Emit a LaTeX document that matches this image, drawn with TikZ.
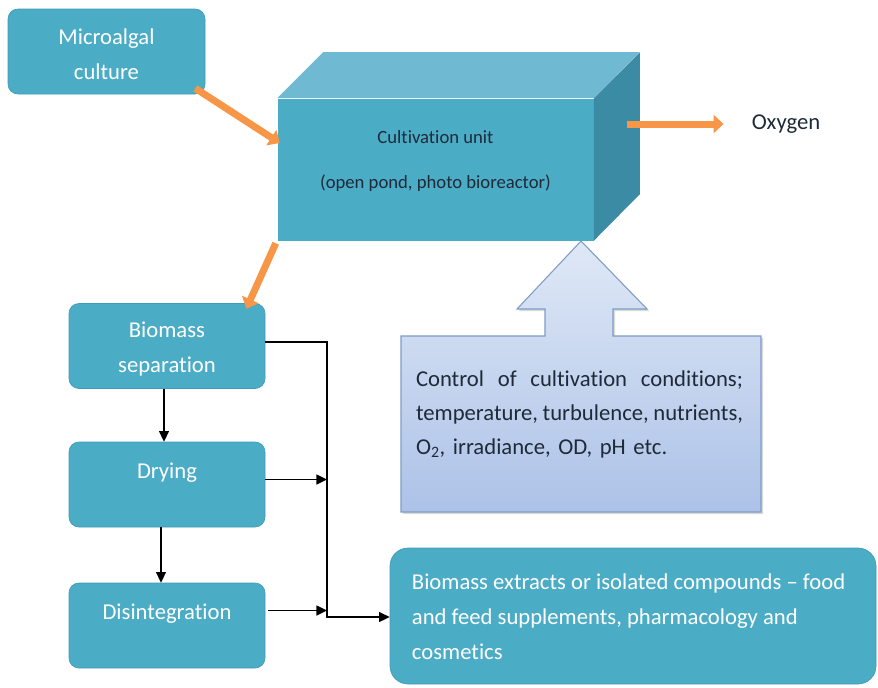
\documentclass[tikz,border=0pt]{standalone}
\usepackage{fontspec}
\setmainfont{Carlito}[Ligatures=NoCommon]
\usetikzlibrary{arrows.meta,shadows}

% one unit of the drawing grid
\newdimen\pxl \pxl=0.75pt
% a line of text spread to the full width of the control box
\newcommand{\fullline}[1]{\leavevmode\hbox to 327\pxl{#1}}

\definecolor{boxfill}{HTML}{4BACC6}
\definecolor{boxline}{HTML}{3F9CB6}
\definecolor{cubetop}{HTML}{6FBAD2}
\definecolor{cubeside}{HTML}{3A8BA3}
\definecolor{flow}{HTML}{F79646}
\definecolor{calltop}{HTML}{DFE8F6}
\definecolor{callbot}{HTML}{ADC2E8}
\definecolor{callline}{HTML}{7F9CC6}
\definecolor{darktxt}{HTML}{1F2A38}

\tikzset{
  stage/.style={rectangle, rounded corners=10\pxl, fill=boxfill, draw=boxline,
    line width=0.5pt, text=white, align=center,
    font=\fontsize{17}{26.25}\selectfont},
  stagetxt/.style={inner sep=0pt, text=white, font=\fontsize{17}{26.25}\selectfont},
  cubefront/.style={rectangle, fill=boxfill, inner sep=0pt},
  cubetxt/.style={inner sep=0pt, text=darktxt, font=\fontsize{14}{17}\selectfont},
  plaintxt/.style={inner sep=0pt, text=darktxt, font=\fontsize{17}{21}\selectfont},
  callout/.style={draw=callline, line width=0.8pt, top color=calltop, bottom color=callbot,
    drop shadow={shadow xshift=1.5pt, shadow yshift=-1.5pt, opacity=0.3}},
  ctrltext/.style={inner sep=0pt, text width=327\pxl, align=left, text=darktxt,
    font=\fontsize{17}{25.5}\selectfont},
  flowarrow/.style={draw=flow, line width=5.25pt,
    -{Triangle[length=7.5pt,width=13.5pt]}},
  flowline/.style={draw=black, line width=1.1pt,
    -{Triangle[length=8pt,width=7.5pt]}}
}

\begin{document}
\begin{tikzpicture}[x=0.75pt,y=-0.75pt]
\useasboundingbox (0,0) rectangle (878,687);

% control conditions callout (up arrow into the cultivation unit)
\path[callout] (401,336) -- (545,336) -- (545,309) -- (517,309) -- (581,241)
  -- (647,309) -- (613,309) -- (613,336) -- (761,336) -- (761,512)
  -- (401,512) -- cycle;
\node[ctrltext] (ctrl) at (579.5,414)
  {\fullline{Control\hfill of\hfill cultivation\hfill conditions;}\\
   \fullline{temperature,\hfill turbulence,\hfill nutrients,}\\
   O\textsubscript{2}, irradiance, OD, pH etc.};

% cultivation unit as a cuboid
\node[cubefront, minimum width=316\pxl, minimum height=142\pxl] (cult) at (435.5,169.5) {};
\fill[cubetop] (cult.north west) -- ++(46,-46) -- ++(316,0) -- (cult.north east) -- cycle;
\fill[cubeside] (cult.north east) -- ++(46,-46) -- ++(0,142) -- (cult.south east) -- cycle;
\node[cubetxt] at ([yshift=32\pxl]cult.center) {Cultivation unit};
\node[cubetxt] at ([yshift=-14\pxl]cult.center) {(open pond, photo bioreactor)};

% process boxes
\node[stage, minimum width=197\pxl, minimum height=85\pxl] (micro) at (106.5,51.5) {};
\node[stagetxt, align=center] at ([yshift=-3\pxl]micro.center) {Microalgal\\culture};
\node[stage, minimum width=196\pxl, minimum height=85\pxl] (bio) at (167,346) {};
\node[stagetxt, align=center] at ([yshift=-3\pxl]bio.center) {Biomass\\separation};
\node[stage, minimum width=196\pxl, minimum height=85\pxl] (dry) at (167,484.5) {};
\node[stagetxt] at ([yshift=-31\pxl]dry.north) {Drying};
\node[stage, minimum width=196\pxl, minimum height=85\pxl] (dis) at (167,625.5) {};
\node[stagetxt] at ([yshift=-31\pxl]dis.north) {Disintegration};
\node[stage, rounded corners=18\pxl, minimum width=486\pxl, minimum height=136\pxl] (out) at (633,616) {};
\node[stagetxt, align=left, anchor=west] at ([xshift=22\pxl,yshift=-1\pxl]out.west)
  {Biomass extracts or isolated compounds -- food\\
   and feed supplements, pharmacology and\\
   cosmetics};

\node[plaintxt] (oxy) at (786,124) {Oxygen};

% orange flows
\draw[flowarrow] ([xshift=-10\pxl,yshift=6\pxl]micro.south east)
  -- ([xshift=2.5\pxl,yshift=26.5\pxl]cult.west);
\draw[flowarrow] ([xshift=-1.5\pxl,yshift=-2.5\pxl]cult.south west)
  -- ([xshift=-19\pxl,yshift=-5.5\pxl]bio.north east);
\draw[flowarrow] ([xshift=33\pxl,yshift=45.5\pxl]cult.east)
  -- ([xshift=-28\pxl]oxy.west);

% downstream processing connectors
\coordinate (jn) at (327,617);
\draw[flowline] ([xshift=-3\pxl]bio.south) -- ([xshift=-3\pxl]dry.north);
\draw[flowline] ([xshift=-6\pxl]dry.south) -- ([xshift=-6\pxl]dis.north);
\draw[flowline] ([yshift=4\pxl]bio.east) -| (jn) -- (jn -| out.west);
\draw[flowline] ([yshift=5\pxl]dry.east) -- ([yshift=5\pxl]dry.east -| jn);
\draw[flowline] ([xshift=3\pxl,yshift=15\pxl]dis.east) -- ([yshift=15\pxl]dis.east -| jn);
\end{tikzpicture}
\end{document}
